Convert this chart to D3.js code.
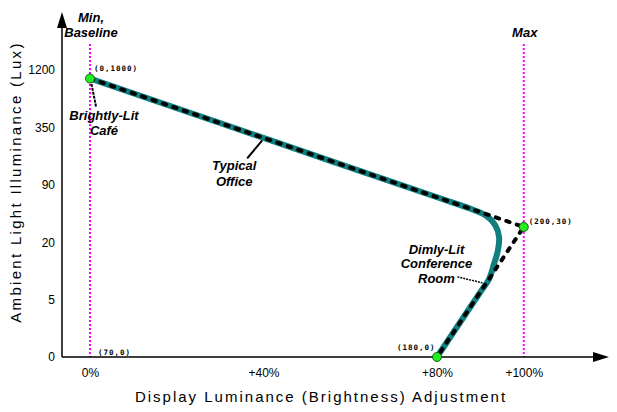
<!DOCTYPE html>
<html>
<head>
<meta charset="utf-8">
<script src="https://cdn.jsdelivr.net/npm/d3@7"></script>
<style>
  body { margin: 0; background: #fff; }
  svg { font-family: "Liberation Sans", Arial, sans-serif; }
  .note { font-weight: bold; font-style: italic; font-size: 13px; fill: #000; }
  .coord { font-family: "DejaVu Sans Mono", monospace; font-weight: bold; font-size: 7.5px; letter-spacing: 1px; fill: #000; }
  .title { font-size: 15px; fill: #000; }
</style>
</head>
<body>
<svg id="chart" width="617" height="412"></svg>
<script>
// axis ticks
const luxTicks = [0, 5, 20, 90, 350, 1200];
const pctTicks = [0, 40, 80, 100];

// reference settings (straight dashed path)
const refPct = [0, 100, 80];
const refLux = [1000, 30, 0];
const refLabels = ["(0,1000)", "(200,30)", "(180,0)"];

// the smoothed (teal) response curve
const curvePct = [0, 48.4, 80.7, 87.6, 91.3, 93.4, 94.3, 94.06, 93.14, 92.0, 89.87, 80];
const curveLux = [1000, 203.5, 63.5, 48.6, 40.5, 31.6, 23.0, 16.7, 12.05, 8.41, 5.96, 0];

// vertical markers
const markerPct = [0, 100];
const markerNames = [["Min,", "Baseline"], ["Max"]];

const svg = d3.select("#chart");

// x: brightness adjustment in %
const x = d3.scaleLinear().domain([0, 80]).range([90, 437]);

// y: ambient lux, evenly spaced ticks with log spacing in between
const lg = v => Math.log10(v + 1);
const yStep = d3.scaleLinear().domain([0, luxTicks.length - 1]).range([357, 70]);
const yPos = d3.scaleLinear()
  .domain(luxTicks.map(lg))
  .range(luxTicks.map((d, i) => yStep(i)));
const y = v => yPos(lg(v));

const axisX = 62, axisY = y(0);

// magenta min / max lines
svg.selectAll(".marker")
  .data(markerPct)
  .join("line")
  .attr("x1", d => x(d)).attr("x2", d => x(d))
  .attr("y1", 44).attr("y2", axisY)
  .attr("stroke", "#ff00ff")
  .attr("stroke-width", 2)
  .attr("stroke-dasharray", "2,2");

markerPct.forEach((p, i) => {
  const t = svg.append("text").attr("class", "note").attr("text-anchor", "middle");
  const names = markerNames[i];
  names.forEach((n, j) => {
    t.append("tspan")
      .attr("x", x(p) + 1)
      .attr("y", 37 - (names.length - 1 - j) * 15)
      .text(n);
  });
});

// axes
const gy = svg.append("g")
  .attr("transform", `translate(${axisX},0)`)
  .call(d3.axisLeft(yPos)
    .tickValues(luxTicks.map(lg))
    .tickFormat((d, i) => luxTicks[i])
    .tickSize(0)
    .tickPadding(7));
gy.select(".domain").remove();
gy.selectAll("text").attr("font-size", 12).attr("font-family", "Liberation Sans, Arial, sans-serif").attr("fill", "#000");

const gx = svg.append("g")
  .attr("transform", `translate(0,${axisY})`)
  .call(d3.axisBottom(x)
    .tickValues(pctTicks)
    .tickFormat(d => d ? `+${d}%` : "0%")
    .tickSize(0)
    .tickPadding(11));
gx.select(".domain").remove();
gx.selectAll("text").attr("font-size", 12).attr("font-family", "Liberation Sans, Arial, sans-serif").attr("fill", "#000");

// axis lines with arrow heads
svg.append("path")
  .attr("d", `M${axisX},${axisY}V27M${axisX},${axisY}H594`)
  .attr("stroke", "#000").attr("stroke-width", 1.5).attr("fill", "none");
svg.append("path")
  .attr("d", `M${axisX},12L${axisX - 5},28L${axisX + 5},28Z M609,${axisY}L593,${axisY - 5}L593,${axisY + 5}Z`)
  .attr("fill", "#000");

// axis titles
svg.append("text").attr("class", "title")
  .attr("x", 321).attr("y", 402)
  .attr("text-anchor", "middle")
  .attr("letter-spacing", 2)
  .text("Display Luminance (Brightness) Adjustment");
svg.append("text").attr("class", "title")
  .attr("transform", "translate(21,182) rotate(-90)")
  .attr("text-anchor", "middle")
  .attr("letter-spacing", 2.3)
  .text("Ambient Light Illuminance (Lux)");

// teal curve
const curvePts = curvePct.map((p, i) => [x(p), y(curveLux[i])]);
svg.append("path")
  .attr("d", d3.line().curve(d3.curveCatmullRom.alpha(0.5))(curvePts))
  .attr("fill", "none")
  .attr("stroke", "#0f7f80")
  .attr("stroke-width", 6)
  .attr("stroke-linecap", "round");

// dashed reference path
const refPts = refPct.map((p, i) => [x(p), y(refLux[i])]);
svg.append("path")
  .attr("d", d3.line()(refPts))
  .attr("fill", "none")
  .attr("stroke", "#000")
  .attr("stroke-width", 4)
  .attr("stroke-linecap", "round")
  .attr("stroke-dasharray", "3.5,7.5");

// annotations
const A = refPts[0], V = refPts[1], B = refPts[2];
const onAV = d3.interpolate(A, V), onVB = d3.interpolate(V, B);
const officeEnd = onAV(0.397);
const roomEnd = onVB(0.43);
const leaders = [
  { from: [A[0] + 6, A[1] + 28], to: [A[0] + 1, A[1] + 3], w: 2, dash: "3,1" },
  { from: [officeEnd[0] - 15, officeEnd[1] + 21], to: [officeEnd[0], officeEnd[1] + 3], w: 2, dash: null },
  { from: [roomEnd[0] - 29, roomEnd[1] - 6], to: [roomEnd[0] - 4, roomEnd[1]], w: 1.5, dash: "2,1" }
];
svg.selectAll(".leader")
  .data(leaders)
  .join("line")
  .attr("x1", d => d.from[0]).attr("y1", d => d.from[1])
  .attr("x2", d => d.to[0]).attr("y2", d => d.to[1])
  .attr("stroke", "#000")
  .attr("stroke-width", d => d.w)
  .attr("stroke-dasharray", d => d.dash);

const notes = [
  { lines: ["Brightly-Lit", "Café"], x: A[0] + 14, y: A[1] + 42, lh: 15 },
  { lines: ["Typical", "Office"], x: officeEnd[0] - 28, y: officeEnd[1] + 33, lh: 16 },
  { lines: ["Dimly-Lit", "Conference", "Room"], x: roomEnd[0] - 50, y: roomEnd[1] - 29, lh: 14.6 }
];
notes.forEach(n => {
  const t = svg.append("text").attr("class", "note").attr("text-anchor", "middle");
  n.lines.forEach((l, j) => {
    t.append("tspan").attr("x", n.x).attr("y", n.y + j * n.lh).text(l);
  });
});

// green setting dots
svg.selectAll(".dot")
  .data(refPts)
  .join("circle")
  .attr("cx", d => d[0]).attr("cy", d => d[1])
  .attr("r", 4.5)
  .attr("fill", "#22ee22")
  .attr("stroke", "#1a5e1a")
  .attr("stroke-width", 1);

// coordinate labels
const coordOffsets = [[4, -7], [5, -3], [-40, -7]];
svg.selectAll(".coord-lbl")
  .data(refLabels)
  .join("text")
  .attr("class", "coord")
  .attr("x", (d, i) => refPts[i][0] + coordOffsets[i][0])
  .attr("y", (d, i) => refPts[i][1] + coordOffsets[i][1])
  .text(d => d);
svg.append("text").attr("class", "coord")
  .attr("x", x(0) + 8).attr("y", axisY - 2)
  .text("(70,0)");
</script>
</body>
</html>
